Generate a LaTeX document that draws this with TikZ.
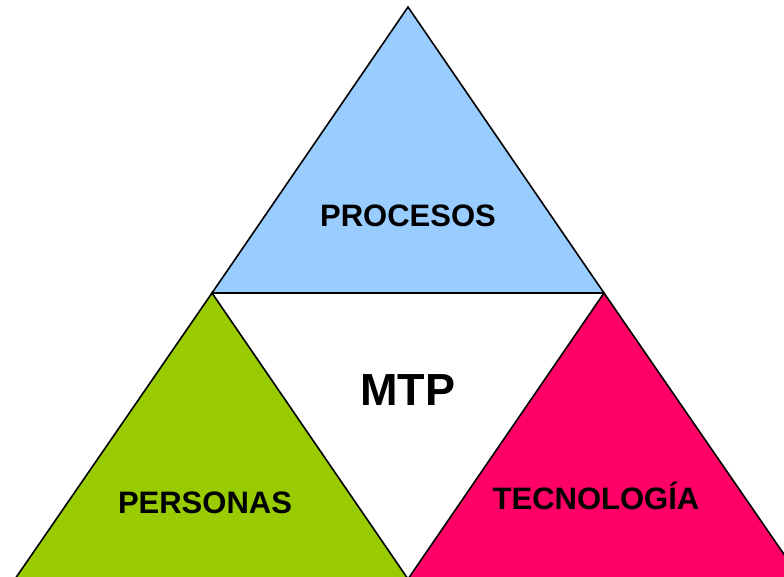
\documentclass[tikz,border=0pt]{standalone}
\usepackage{fontspec}
\setmainfont{Liberation Sans}
\definecolor{azul}{HTML}{99CCFF}
\definecolor{verde}{HTML}{99CC00}
\definecolor{rosa}{HTML}{FF0066}
\tikzset{
  lado/.style={draw=black, line width=1.6pt, line join=miter},
  rotulo/.style={anchor=base, inner sep=0pt, font=\fontsize{31}{36}\selectfont\bfseries},
}
\begin{document}
\begin{tikzpicture}[x=1pt,y=-1pt]
%
% marco de la figura
\useasboundingbox (0,0) rectangle (784,577);
\clip (0,0) rectangle (784,577);
%
% vertices de los triangulos
\coordinate (A) at (408,7);
\coordinate (B) at (212,293);
\coordinate (C) at (604,293);
\coordinate (D) at (15,579);
\coordinate (E) at (408,579);
\coordinate (F) at (801,579);
%
\fill[white] (B) -- (C) -- (E) -- cycle;
\draw[lado, fill=azul] (A) -- (C) -- (B) -- cycle;
\draw[lado, fill=verde] (B) -- (E) -- (D) -- cycle;
\draw[lado, fill=rosa] (C) -- (F) -- (E) -- cycle;
%
% textos
\node[rotulo] (procesos) at (408,227) {PROCESOS};
\node[rotulo, font=\fontsize{45}{54}\selectfont\bfseries] (mtp) at (408,405) {MTP};
\node[rotulo] (personas) at (205,513) {PERSONAS};
\node[rotulo] (tecnologia) at (596,509) {TECNOLOGÍA};
%
\end{tikzpicture}
\end{document}
